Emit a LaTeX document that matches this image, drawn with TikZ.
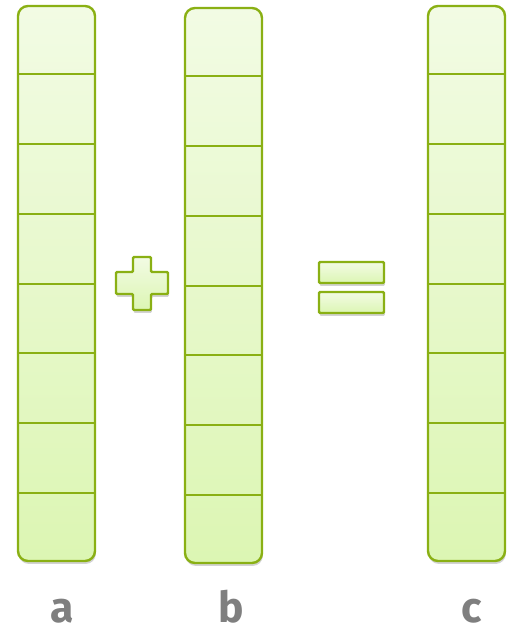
\documentclass[tikz,border=0pt]{standalone}
\usepackage{fontspec}
\setmainfont{Fira Sans}
\usetikzlibrary{calc,shadows}

\definecolor{vecgreen}{HTML}{8AB014}
\definecolor{vectop}{HTML}{F2FBE4}
\definecolor{vecbot}{HTML}{DCF6B3}
\definecolor{labelgray}{HTML}{7F7F7F}

\tikzset{
  vecbox/.style={draw=vecgreen,line width=1.8pt,rounded corners=7.5pt,
    top color=vectop,bottom color=vecbot,
    minimum width=57.75pt,minimum height=416.25pt,inner sep=0pt,
    drop shadow={shadow xshift=0.6pt,shadow yshift=-2.2pt,opacity=0.35}},
  divider/.style={draw=vecgreen,line width=1.5pt},
  signbox/.style={draw=vecgreen,line width=1.8pt,rounded corners=0.8pt,
    top color=vectop,bottom color=vecbot,
    drop shadow={shadow xshift=0.6pt,shadow yshift=-2.2pt,opacity=0.35}},
  veclabel/.style={text=labelgray,font=\fontsize{32}{36}\selectfont\bfseries,
    anchor=base,inner sep=0pt,text depth=0pt}
}

\begin{document}
\begin{tikzpicture}[x=0.75pt,y=-0.75pt]
        \useasboundingbox (0,0) rectangle (517,631);
        % the three vectors
        \node[vecbox] (a) at (56.5,283.5) {};
        \node[vecbox] (b) at (223.5,285.5) {};
        \node[vecbox] (c) at (466.5,283.5) {};
        \foreach \v in {a,b,c}
            \foreach \i in {1,...,7}
                \draw[divider] ($(\v.north west)!\i/8!(\v.south west)$) -- ($(\v.north east)!\i/8!(\v.south east)$);
        % plus and equals
        \path[signbox] (133,257) -- (151,257) -- (151,272) -- (168,272) -- (168,294) -- (151,294)
            -- (151,310) -- (133,310) -- (133,294) -- (116,294) -- (116,272) -- (133,272) -- cycle;
        \path[signbox] (319,262) rectangle (384,283);
        \path[signbox] (319,292) rectangle (384,313);
        % labels
        \node[veclabel] (la) at (62.5,622) {a};
        \node[veclabel] (lb) at (231,622) {b};
        \node[veclabel] (lc) at (472,622) {c};
    \end{tikzpicture}
\end{document}
